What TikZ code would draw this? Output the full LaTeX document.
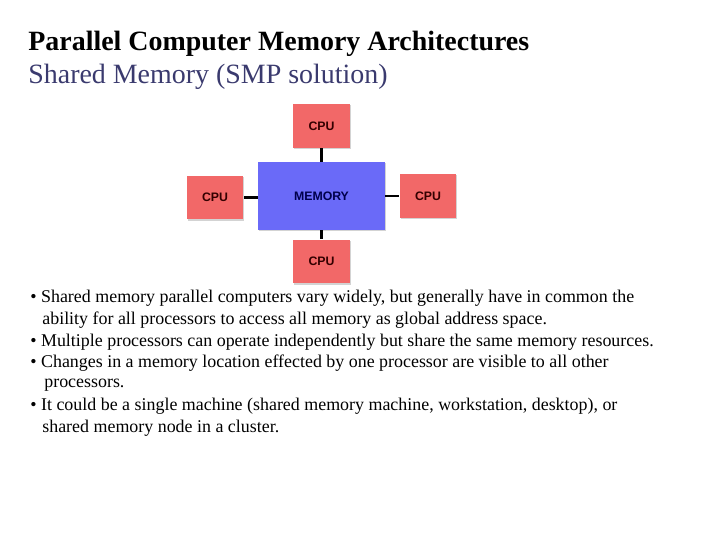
\documentclass[tikz,border=0pt]{standalone}
\usepackage{fontspec}
\setmainfont{Liberation Serif}
\newfontfamily\boxfont{Liberation Sans}
\usetikzlibrary{positioning, shadows}
\definecolor{cpured}{HTML}{F26868}
\definecolor{memblue}{HTML}{6A6AF8}
\definecolor{subtitle}{HTML}{3A3A6E}
\begin{document}
\begin{tikzpicture}[
                x=0.02cm, y=0.02cm,
                unit/.style={draw=none, font=\boxfont\bfseries\fontsize{7}{8}\selectfont,
                    drop shadow={shadow xshift=0.6pt, shadow yshift=-0.6pt, opacity=0.35}},
                cpu/.style={unit, fill=cpured, text=black!80!red, minimum width=1.13cm, minimum height=0.88cm},
                memory/.style={unit, fill=memblue, text=blue!30!black, minimum width=2.54cm, minimum height=1.36cm},
                link/.style={line width=1.6pt},
                bullet/.style={anchor=west, inner sep=0pt, font=\fontsize{10.2}{12}\selectfont}
            ]
            \useasboundingbox (0,0) rectangle (720,-540);

            % Title
            \node[anchor=west, inner sep=0pt, font=\bfseries\fontsize{15.9}{18}\selectfont] (title) at (28,-44) {Parallel Computer Memory Architectures};
            \node[anchor=west, inner sep=0pt, text=subtitle, font=\fontsize{15.9}{18}\selectfont] (subtitle) at (28,-77) {Shared Memory (SMP solution)};

            % Memory and processors
            \node[memory] (mem) at (321.5,-196) {MEMORY};
            \node[cpu] (cpu-top) at (321.5,-126) {CPU};
            \node[cpu] (cpu-left) at (215,-197.5) {CPU};
            \node[cpu] (cpu-right) at (428,-196) {CPU};
            \node[cpu] (cpu-bottom) at (321.5,-261.5) {CPU};

            \draw[link] (mem) -- (cpu-top);
            \draw[link] (mem) -- (cpu-bottom);
            \draw[link] (mem.west |- cpu-left) -- (cpu-left);
            \draw[link] (mem.east |- cpu-right) -- (cpu-right);

            % Bullets
            \node[bullet] (b1) at (30,-298) {\textbullet\ Shared memory parallel computers vary widely, but generally have in common the};
            \node[bullet] (b1b) at (42,-320) {ability for all processors to access all memory as global address space.};
            \node[bullet] (b2) at (30,-342) {\textbullet\ Multiple processors can operate independently but share the same memory resources.};
            \node[bullet] (b3) at (30,-363) {\textbullet\ Changes in a memory location effected by one processor are visible to all other};
            \node[bullet] (b3b) at (44,-385) {processors.};
            \node[bullet] (b4) at (30,-406) {\textbullet\ It could be a single machine (shared memory machine, workstation, desktop), or};
            \node[bullet] (b4b) at (42,-428) {shared memory node in a cluster.};
\end{tikzpicture}
\end{document}
